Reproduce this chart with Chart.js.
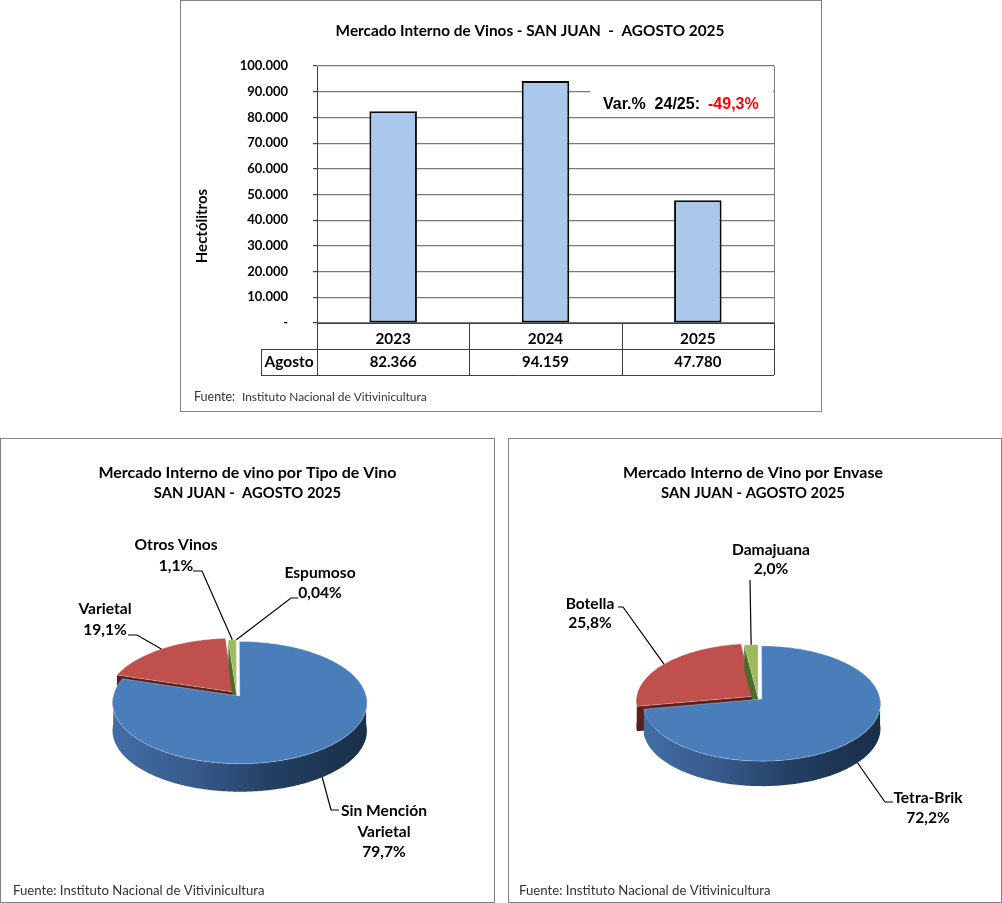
<!DOCTYPE html>
<html>
<head>
<meta charset="utf-8">
<title>Mercado Interno de Vinos - San Juan</title>
<script src="https://cdn.jsdelivr.net/npm/chart.js@4"></script>
<style>
  html, body { margin: 0; padding: 0; background: #fff; }
  body { position: relative; width: 1002px; height: 903px; overflow: hidden; }
  .panel { position: absolute; box-sizing: border-box; border: 1.5px solid #808080; background: #fff; }
  canvas { position: absolute; }
</style>
</head>
<body>
<div class="panel" style="left:180px;top:0;width:642px;height:412px"></div>
<div class="panel" style="left:0;top:438px;width:495px;height:465px"></div>
<div class="panel" style="left:508px;top:438px;width:494px;height:465px"></div>
<canvas id="barChart" style="left:181px;top:0;width:641px;height:412px"></canvas>
<canvas id="tipoChart" style="left:0;top:438px;width:495px;height:465px"></canvas>
<canvas id="envaseChart" style="left:506px;top:438px;width:494px;height:465px"></canvas>

<script>
// data
const years = ["2023", "2024", "2025"];
const agosto = [82366, 94159, 47780];
const agostoLabels = ["82.366", "94.159", "47.780"];
const yTickLabels = ["-", "10.000", "20.000", "30.000", "40.000", "50.000", "60.000", "70.000", "80.000", "90.000", "100.000"];

const tipoCategories = [["Sin Mención", "Varietal"], ["Varietal"], ["Otros Vinos"], ["Espumoso"]];
const tipoValues = [79.7, 19.1, 1.1, 0.04];
const tipoValueLabels = ["79,7%", "19,1%", "1,1%", "0,04%"];

const envaseCategories = [["Tetra-Brik"], ["Botella"], ["Damajuana"]];
const envaseValues = [72.2, 25.8, 2.0];
const envaseValueLabels = ["72,2%", "25,8%", "2,0%"];

const FONT = "Lato";
const fuenteText = "Instituto Nacional de Vitivinicultura";
const pieColors = ["#4a7ebb", "#c0504d", "#9bbb59", "#9bbb59"];
const wallColors = ["", "#5a1f1d", "#4f6a2a", "#4f6a2a"];

Chart.defaults.font.family = FONT;
Chart.defaults.color = "#000";
Chart.defaults.animation = false;
Chart.defaults.responsive = false;

function sizeCanvas(id, w, h) {
    const c = document.getElementById(id);
    c.width = w;
    c.height = h;
    return c;
}

function text(ctx, str, x, y, font, color, align) {
    ctx.font = font;
    ctx.fillStyle = color || "#000";
    ctx.textAlign = align || "center";
    ctx.textBaseline = "middle";
    ctx.fillText(str, x, y);
}

// ---- bar chart with its data table ----
const BAR_LEFT = 181;

const barExtras = {
    id: "barExtras",
    beforeDatasetsDraw(chart) {
        // white box of the Var.% note hides the grid behind it
        const ctx = chart.ctx;
        ctx.fillStyle = "#fff";
        ctx.fillRect(590 - BAR_LEFT, 84, 183, 33);
    },
    afterDraw(chart) {
        const ctx = chart.ctx;
        const area = chart.chartArea;
        const xs = chart.scales.x;
        const cell = (area.right - area.left) / years.length;
        const tableLeft = 261 - BAR_LEFT;

        ctx.save();
        ctx.strokeStyle = "#808080";
        ctx.lineWidth = 1;
        ctx.beginPath();
        ctx.moveTo(area.right + 0.5, area.top);
        ctx.lineTo(area.right + 0.5, area.bottom);
        ctx.stroke();

        ctx.strokeStyle = "#404040";
        ctx.beginPath();
        ctx.moveTo(area.left, area.bottom + 0.5);
        ctx.lineTo(area.right, area.bottom + 0.5);
        for (let i = 0; i <= years.length; i++) {
            const x = Math.round(area.left + i * cell) + 0.5;
            ctx.moveTo(x, area.bottom);
            ctx.lineTo(x, 375);
        }
        ctx.moveTo(tableLeft + 0.5, 349);
        ctx.lineTo(tableLeft + 0.5, 375);
        ctx.moveTo(tableLeft, 349.5);
        ctx.lineTo(area.right, 349.5);
        ctx.moveTo(tableLeft, 375.5);
        ctx.lineTo(area.right, 375.5);
        ctx.stroke();

        text(ctx, "Agosto", (tableLeft + area.left) / 2, 362, "bold 15.5px " + FONT);
        agostoLabels.forEach((label, i) => {
            text(ctx, label, xs.getPixelForValue(i), 362, "bold 15px " + FONT);
        });

        text(ctx, "Mercado Interno de Vinos - SAN JUAN  -  AGOSTO 2025", 530 - BAR_LEFT, 31, "bold 15.35px " + FONT);

        ctx.save();
        ctx.translate(202 - BAR_LEFT, 226);
        ctx.rotate(-Math.PI / 2);
        text(ctx, "Hectólitros", 0, 0, "bold 15px " + FONT);
        ctx.restore();

        // note in the upper right corner
        const noteFont = "bold 16px 'Liberation Sans'";
        text(ctx, "Var.%  24/25:", 603 - BAR_LEFT, 105, noteFont, "#000", "left");
        text(ctx, "-49,3%", 708 - BAR_LEFT, 105, noteFont, "#ff0000", "left");

        text(ctx, "Fuente:", 194 - BAR_LEFT, 397, "12.5px " + FONT, "#333", "left");
        text(ctx, fuenteText, 242 - BAR_LEFT, 397, "11.9px " + FONT, "#333", "left");
        ctx.restore();
    }
};

new Chart(sizeCanvas("barChart", 641, 412), {
    type: "bar",
    data: {
        labels: years,
        datasets: [{
            data: agosto,
            backgroundColor: "#a9c8ec",
            borderColor: "#0a0a0a",
            borderWidth: 2,
            borderSkipped: false,
            barPercentage: 0.312,
            categoryPercentage: 1
        }]
    },
    options: {
        layout: { padding: { left: 4, right: 48, top: 66, bottom: 0 } },
        plugins: {
            legend: { display: false },
            tooltip: { enabled: false }
        },
        scales: {
            x: {
                grid: { display: false },
                border: { color: "#404040" },
                ticks: { font: { size: 15.3, weight: "bold" }, padding: -1 },
                afterFit(scale) { scale.height = 89; }
            },
            y: {
                min: 0,
                max: 100000,
                grid: { color: "#7a7a7a", tickColor: "#404040", tickLength: 4, lineWidth: 1.2 },
                border: { color: "#404040" },
                ticks: {
                    stepSize: 10000,
                    padding: 25,
                    font: { size: 13, weight: "bold" },
                    callback: (v, i) => yTickLabels[i]
                },
                afterFit(scale) { scale.width = 132; }
            }
        }
    },
    plugins: [barExtras]
});

// ---- tilted pies: the library works out the slices, this only projects them ----
function project(g, u, v) {
    const w = 1 + g.e * v;
    return [g.cx + g.rx * u / w, g.cy - g.k * v / w];
}

function sliceGeom(el) {
    const start = el.startAngle + Math.PI / 2;
    const end = el.endAngle + Math.PI / 2;
    const mid = (start + end) / 2;
    const o = (el.options.offset || 0) / el.outerRadius;
    return { start, end, mid, su: Math.sin(mid) * o, sv: Math.cos(mid) * o };
}

function rimPoints(g, s, from, to) {
    const pts = [];
    const n = Math.max(2, Math.ceil((to - from) / 0.02));
    for (let i = 0; i <= n; i++) {
        const a = from + (to - from) * i / n;
        pts.push(project(g, Math.sin(a) + s.su, Math.cos(a) + s.sv));
    }
    return pts;
}

function fillPoly(ctx, pts, fill) {
    ctx.beginPath();
    pts.forEach((p, i) => (i ? ctx.lineTo(p[0], p[1]) : ctx.moveTo(p[0], p[1])));
    ctx.closePath();
    ctx.fillStyle = fill;
    ctx.fill();
}

function wallFill(ctx, g, index) {
    if (index !== 0) return wallColors[index];
    const grad = ctx.createLinearGradient(g.cx - g.rx, 0, g.cx + g.rx, 0);
    grad.addColorStop(0, "#436fa6");
    grad.addColorStop(0.35, "#36598a");
    grad.addColorStop(0.65, "#233f61");
    grad.addColorStop(1, "#1a2f4a");
    return grad;
}

function drawSlice(ctx, g, el, index) {
    const s = sliceGeom(el);
    const apex = project(g, s.su, s.sv);
    const fill = wallFill(ctx, g, index);

    // cut face along the start edge
    if (index !== 0) {
        const rim = rimPoints(g, s, s.start, s.start)[0];
        fillPoly(ctx, [apex, rim, [rim[0], rim[1] + g.depth], [apex[0], apex[1] + g.depth]], fill);
    }

    // outer wall, only the part on the front half of the pie
    const from = Math.max(s.start, Math.PI / 2);
    const to = Math.min(s.end, Math.PI * 1.5);
    if (to > from) {
        const rim = rimPoints(g, s, from, to);
        const low = rim.map(p => [p[0], p[1] + g.depth]).reverse();
        fillPoly(ctx, rim.concat(low), fill);
    }

    // top face
    const top = [apex].concat(rimPoints(g, s, s.start, s.end));
    fillPoly(ctx, top, el.options.backgroundColor);
    ctx.strokeStyle = "rgba(255,255,255,0.7)";
    ctx.lineWidth = 0.4;
    ctx.stroke();
}

function pieExtras(cfg) {
    const g = cfg.geom;
    return {
        id: "pieExtras",
        beforeDatasetsDraw(chart) {
            const ctx = chart.ctx;
            const els = chart.getDatasetMeta(0).data;
            ctx.save();
            ctx.translate(-cfg.left, -cfg.top);   // from here on page coordinates
            els.forEach((el, i) => { if (i > 0) drawSlice(ctx, g, el, i); });
            drawSlice(ctx, g, els[0], 0);

            // leader lines and labels
            cfg.labels.forEach((lab) => {
                const s = sliceGeom(els[lab.index]);
                const u = Math.sin(s.mid) + s.su;
                const v = Math.cos(s.mid) + s.sv;
                const p = project(g, u, v);
                const startY = v < 0 ? p[1] + g.depth : p[1];
                ctx.strokeStyle = "#000";
                ctx.lineWidth = 1.2;
                ctx.beginPath();
                ctx.moveTo(p[0], startY);
                lab.path.forEach(q => ctx.lineTo(q[0], q[1]));
                ctx.stroke();

                const lines = cfg.categories[lab.index].concat(cfg.valueLabels[lab.index]);
                lines.forEach((line, i) => {
                    text(ctx, line, lab.x, lab.y + i * lab.step, "bold 15.6px " + FONT);
                });
            });

            text(ctx, "Fuente: " + fuenteText, cfg.fuenteX, 891, "13.2px " + FONT, "#333", "left");
            ctx.restore();
            return false;   // slices are already painted
        }
    };
}

function makePie(id, w, h, cfg) {
    new Chart(sizeCanvas(id, w, h), {
        type: "pie",
        data: {
            labels: cfg.categories.map(c => c.join(" ")),
            datasets: [{
                data: cfg.values,
                offset: cfg.offsets,
                backgroundColor: pieColors
            }]
        },
        options: {
            plugins: {
                legend: { display: false },
                tooltip: { enabled: false },
                title: {
                    display: true,
                    text: cfg.title,
                    font: { size: 16, weight: "bold", lineHeight: 1.3 },
                    padding: { top: 24, bottom: 0 }
                },
                subtitle: {
                    display: true,
                    text: cfg.subtitle,
                    font: { size: 14.8, weight: "bold", lineHeight: 1.3 },
                    color: "#000",
                    padding: { top: 1, bottom: 10 }
                }
            }
        },
        plugins: [pieExtras(cfg)]
    });
}

makePie("tipoChart", 495, 465, {
    left: 0,
    top: 438,
    fuenteX: 13,
    title: "Mercado Interno de vino por Tipo de Vino",
    subtitle: "SAN JUAN -  AGOSTO 2025",
    categories: tipoCategories,
    values: tipoValues,
    valueLabels: tipoValueLabels,
    offsets: [8, 8, 0, 0],
    geom: { cx: 236.5, cy: 694, rx: 126, k: 60, e: 0.107, depth: 28 },
    labels: [
        { index: 0, x: 384, y: 811, step: 20.5, path: [[331, 810], [339, 810]] },
        { index: 1, x: 105, y: 609, step: 21, path: [[137, 635], [128, 635]] },
        { index: 2, x: 176, y: 545, step: 21, path: [[202, 571], [193, 571]] },
        { index: 3, x: 320, y: 573, step: 20, path: [[291, 598], [298, 598]] }
    ]
});

makePie("envaseChart", 494, 465, {
    left: 506,
    top: 438,
    fuenteX: 519,
    title: "Mercado Interno de Vino por Envase",
    subtitle: "SAN JUAN - AGOSTO 2025",
    categories: envaseCategories,
    values: envaseValues,
    valueLabels: envaseValueLabels,
    offsets: [8, 7, 0],
    geom: { cx: 758, cy: 697.5, rx: 118, k: 57, e: 0.078, depth: 25 },
    labels: [
        { index: 0, x: 928, y: 798, step: 20, path: [[885, 802], [893, 802]] },
        { index: 1, x: 590, y: 604, step: 19, path: [[623, 607], [618, 607]] },
        { index: 2, x: 771, y: 550, step: 19, path: [[750, 580]] }
    ]
});
</script>
</body>
</html>
